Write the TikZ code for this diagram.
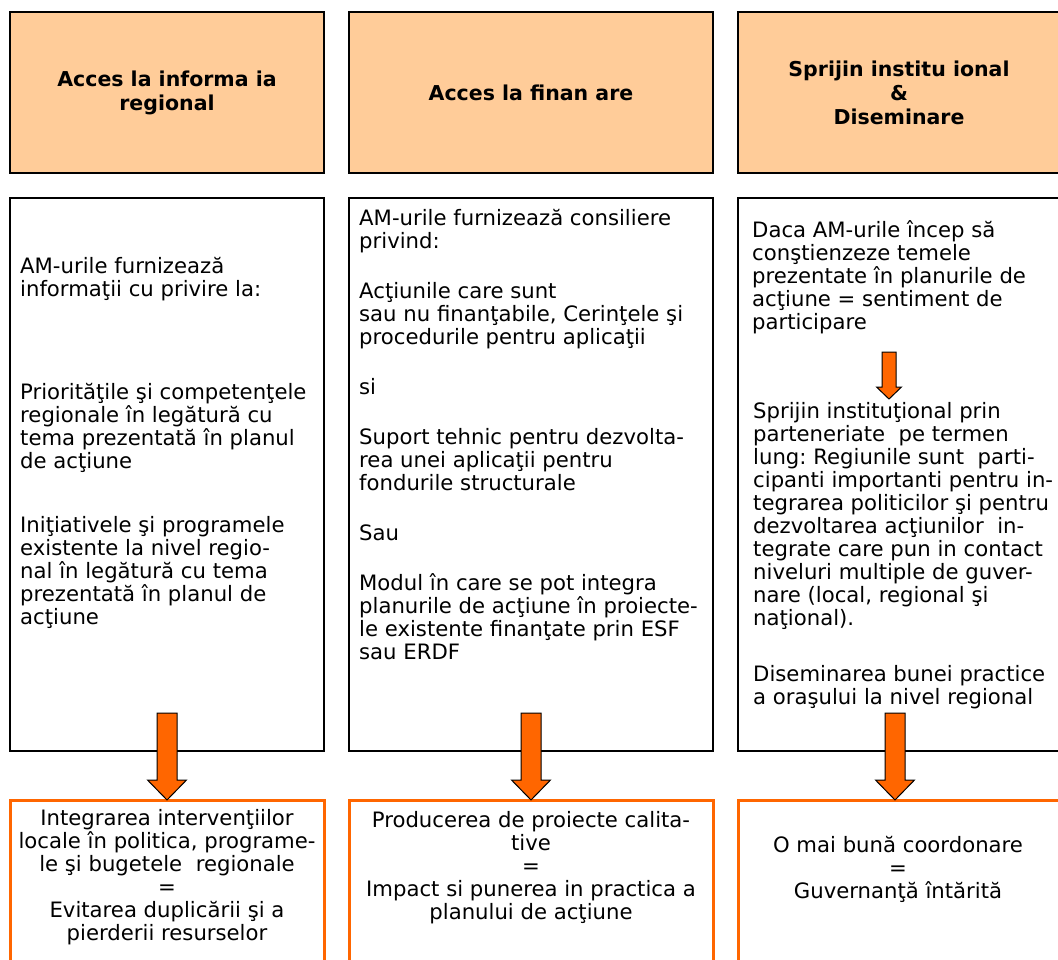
\documentclass[tikz,border=0pt]{standalone}
\usepackage{fontspec}
\setmainfont{DejaVu Sans}
\usepackage{tikz}
\usetikzlibrary{positioning,calc}
\definecolor{peach}{HTML}{FFCC99}
\definecolor{flame}{HTML}{FF6600}
\frenchspacing

\begin{document}
\begin{tikzpicture}
[x=1pt, y=-1pt, font=\fontsize{21.2}{23}\selectfont,
% STYLES
% The headbox style is used for the three titles on top
headbox/.style={rectangle, draw=black, line width=1.3pt, fill=peach, inner sep=0pt, outer sep=0pt, minimum height=161pt, align=center, font=\fontsize{20.5}{24}\selectfont\bfseries},
% The infobox style is used for the tall boxes in the middle
infobox/.style={rectangle, draw=black, line width=1.3pt, inner sep=0pt, outer sep=0pt, minimum height=553pt},
% The resbox style is used for the results at the bottom
resbox/.style={rectangle, draw=flame, line width=3pt, inner sep=0pt, outer sep=0pt, minimum height=175pt},
body/.style={inner sep=0pt, align=left, anchor=north west},
restext/.style={inner sep=0pt, align=center},
% block arrow: shaft half width, head half width, head length
bigarrow/.style n args={3}{draw=black, fill=flame, line width=1pt, to path={let \p1=(\tikztostart), \p2=(\tikztotarget) in (\x1-#1,\y1) -- (\x1+#1,\y1) -- (\x1+#1,\y2+#3) -- (\x1+#2,\y2+#3) -- (\x1,\y2) -- (\x1-#2,\y2+#3) -- (\x1-#1,\y2+#3) -- cycle}}]

\fill[white] (0,0) rectangle (1058,959);
\useasboundingbox (0,0) rectangle (1058,959);

% Draw titles
\node [headbox, minimum width=314pt] (head1) at (167,92.5) {Acces la informa ia\\regional};
\node [headbox, minimum width=364pt, right=25pt of head1] (head2) {Acces la finan are};
\node [headbox, minimum width=322pt, right=25pt of head2] (head3) {Sprijin institu ional\\\&\\Diseminare};

% Draw middle boxes
\node [infobox, minimum width=314pt, below=25pt of head1] (mid1) {};
\node [infobox, minimum width=364pt, below=25pt of head2] (mid2) {};
\node [infobox, minimum width=322pt, below=25pt of head3] (mid3) {};

% Draw result boxes
\node [resbox, minimum width=314pt, below=49pt of mid1] (res1) {};
\node [resbox, minimum width=364pt, below=49pt of mid2] (res2) {};
\node [resbox, minimum width=322pt, below=49pt of mid3] (res3) {};

%%%%%%%%%%%%%%%
% Texts

% mid1
\node [body] (txt1) at (20,257) {AM-urile furnizează\\informaţii cu privire la:\\[80pt]
Priorităţile şi competenţele\\regionale în legătură cu\\tema prezentată în planul\\de acţiune\\[41pt]
Iniţiativele şi programele\\existente la nivel regio-\\nal în legătură cu tema\\prezentată în planul de\\acţiune};

% mid2
\node [body] (txt2) at (359,209) {AM-urile furnizează consiliere\\privind:\\[27pt]
Acţiunile care sunt\\sau nu finanţabile, Cerinţele şi\\procedurile pentru aplicaţii\\[27pt]
si\\[27pt]
Suport tehnic pentru dezvolta-\\rea unei aplicaţii pentru\\fondurile structurale\\[27pt]
Sau\\[27pt]
Modul în care se pot integra\\planurile de acţiune în proiecte-\\le existente finanţate prin ESF\\sau ERDF};

% mid3
\node [body] (txt3a) at (752,220) {Daca AM-urile încep să\\conştienzeze temele\\prezentate în planurile de\\acţiune = sentiment de\\participare};
\node [body] (txt3b) at (753,402) {Sprijin instituţional prin\\parteneriate\ \ pe termen\\lung: Regiunile sunt\ \ parti-\\cipanti importanti pentru in-\\tegrarea politicilor şi pentru\\dezvoltarea acţiunilor\ \ in-\\tegrate care pun in contact\\niveluri multiple de guver-\\nare (local, regional şi\\naţional).\\[33pt]
Diseminarea bunei practice\\a oraşului la nivel regional};

% results
\node [restext, below=9pt of res1.north] (out1) {Integrarea intervenţiilor\\locale în politica, programe-\\le şi bugetele\ \ regionale\\=\\Evitarea duplicării şi a\\pierderii resurselor};
\node [restext, below=11pt of res2.north] (out2) {Producerea de proiecte calita-\\tive\\=\\Impact si punerea in practica a\\planului de acţiune};
\node [restext, below=36pt of res3.north, xshift=-1pt] (out3) {O mai bună coordonare\\=\\Guvernanţă întărită};

%%%%%%%%%%%%%%%

% Draw the arrows
\path [bigarrow={7pt}{12.5pt}{12pt}] ($(mid3.north)+(-10,154)$) to ($(txt3b.north)+(0,-3)$);
\path [bigarrow={10pt}{19.5pt}{20pt}] ($(mid1.south)+(0,-38)$) to (res1.north);
\path [bigarrow={10pt}{19.5pt}{20pt}] ($(mid2.south)+(0,-38)$) to (res2.north);
\path [bigarrow={10pt}{19.5pt}{20pt}] ($(mid3.south)+(-4,-38)$) to (res3.north);

\end{tikzpicture}
\end{document}
